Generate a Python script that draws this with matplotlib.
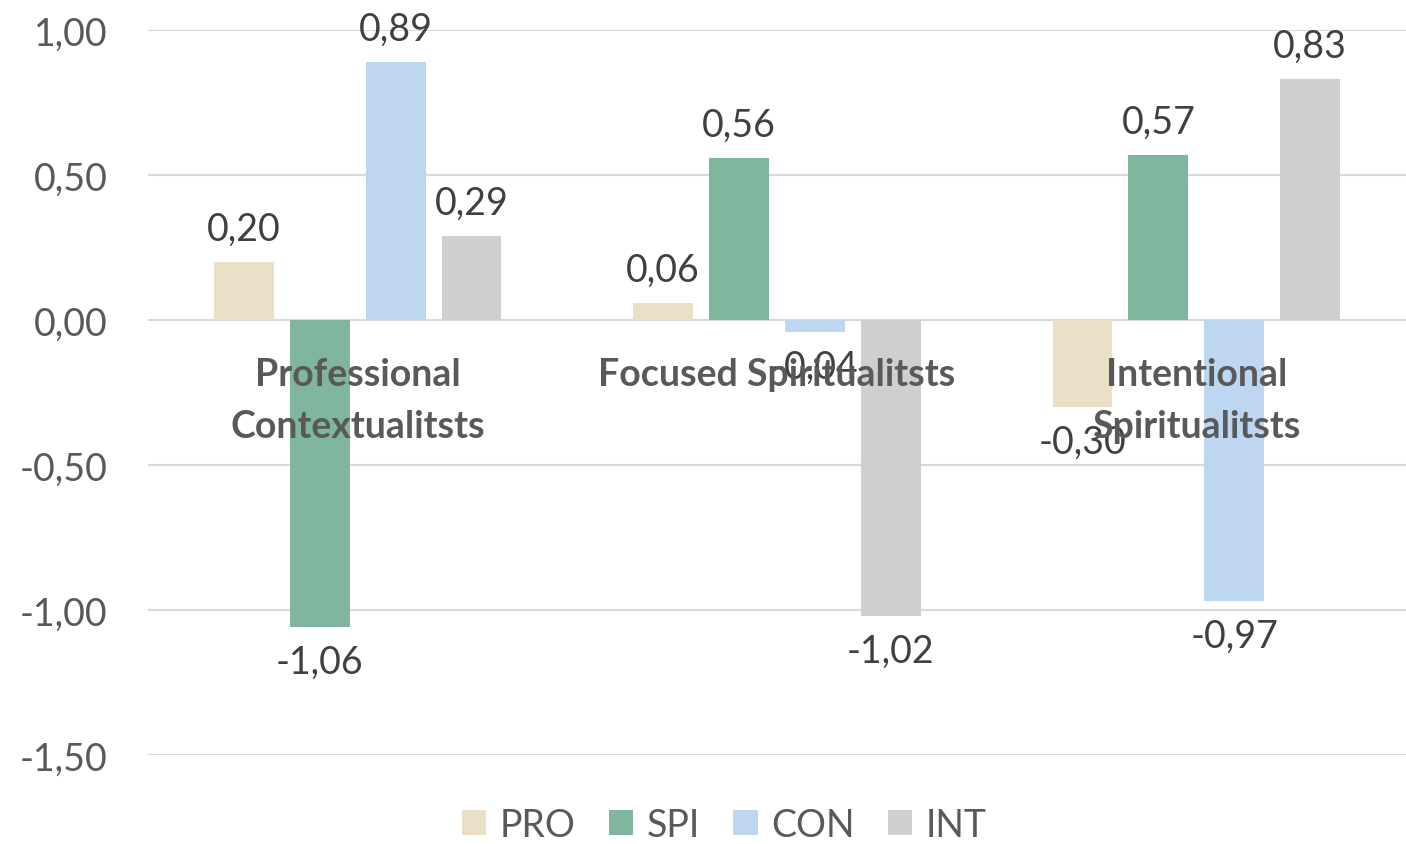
import numpy as np
import matplotlib
matplotlib.use('Agg')
import matplotlib.pyplot as plt

categories = ['Professional\nContextualitsts', 'Focused Spiritualitsts', 'Intentional\nSpiritualitsts']
series = ['PRO', 'SPI', 'CON', 'INT']
pro = [0.20, 0.06, -0.30]
spi = [-1.06, 0.56, 0.57]
con = [0.89, -0.04, -0.97]
intg = [0.29, -1.02, 0.83]
colors = ['#EBE0C5', '#80B69D', '#BDD7F0', '#D0CECF']

plt.rcParams['font.family'] = ['Lato', 'DejaVu Sans']
txt = '#595959'
fs = 27

fig = plt.figure(figsize=(14.06, 8.45), dpi=100)
ax = fig.add_axes([148 / 1406, 1 - 756 / 845, 1258 / 1406, 725 / 845])

x = np.arange(len(categories))
width = 60 / 420
step = 76 / 420
values = [pro, spi, con, intg]
for k, (name, vals) in enumerate(zip(series, values)):
    pos = x + (k - 1.5) * step
    bars = ax.bar(pos, vals, width, color=colors[k], label=name, zorder=3)
    for b, v in zip(bars, vals):
        lab = ('%.2f' % v).replace('.', ',')
        if v >= 0:
            ax.annotate(lab, (b.get_x() + b.get_width() / 2, v), xytext=(0, 11),
                        textcoords='offset points', ha='center', va='bottom',
                        fontsize=fs, color='#404040', zorder=6)
        else:
            ax.annotate(lab, (b.get_x() + b.get_width() / 2, v), xytext=(0, -12),
                        textcoords='offset points', ha='center', va='top',
                        fontsize=fs, color='#404040', zorder=6)

# category names sit just under the zero line, on top of the bars
for i, c in enumerate(categories):
    ax.annotate(c, (i, 0), xytext=(0, -27), textcoords='offset points',
                ha='center', va='top', fontsize=fs, fontweight='bold',
                color=txt, linespacing=1.62, zorder=7)

ax.set_ylim(-1.5, 1.0)
ax.set_xlim(-0.5, 2.5)
yt = [1.0, 0.5, 0.0, -0.5, -1.0, -1.5]
ax.set_yticks(yt)
ax.set_yticklabels([('%.2f' % t).replace('.', ',') for t in yt])
ax.yaxis.grid(True, color='#D9D9D9', linewidth=1.5, zorder=0)
ax.set_axisbelow(True)
for s in ax.spines.values():
    s.set_visible(False)
ax.set_xticks([])
ax.tick_params(axis='y', length=0, pad=29, labelsize=fs, labelcolor=txt)

fig.legend(loc='lower center', ncol=4, frameon=False, fontsize=fs,
           labelcolor=txt, handlelength=0.65, handleheight=0.65,
           handletextpad=0.35, columnspacing=0.9, borderpad=0.2,
           bbox_to_anchor=(0.515, -0.03))

fig.savefig('out.png', dpi=100)
